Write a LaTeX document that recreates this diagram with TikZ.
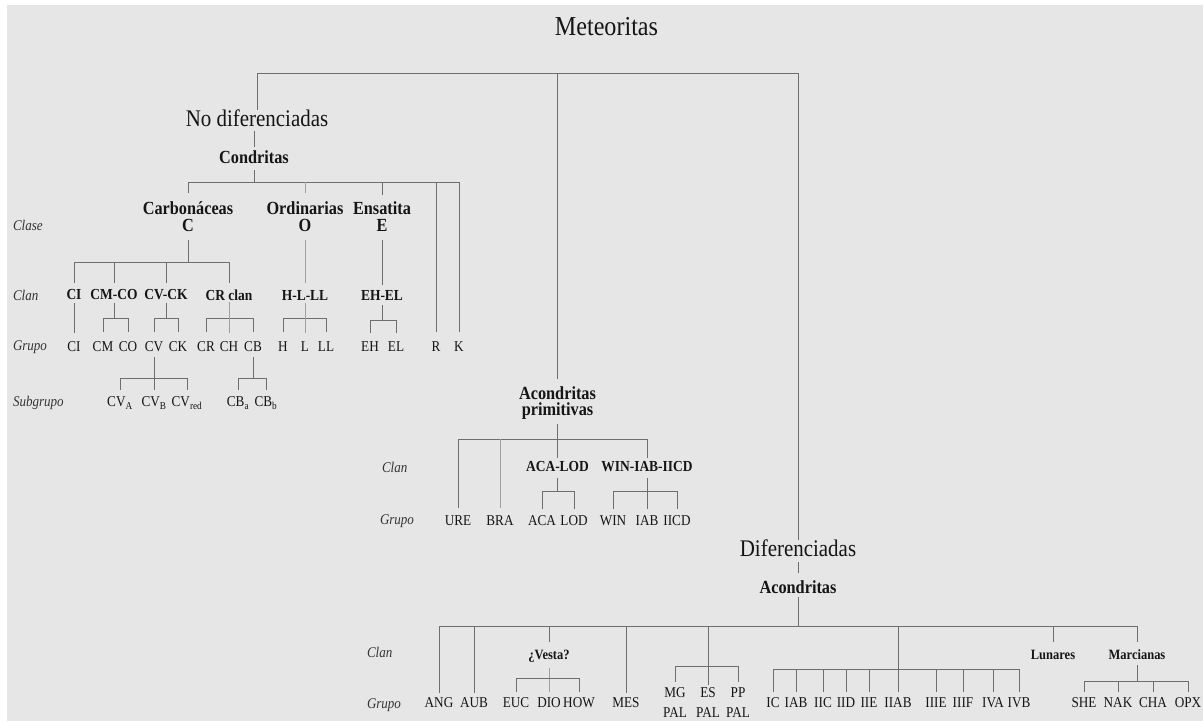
\documentclass[tikz,border=0pt]{standalone}
\usepackage{fontspec}
\setmainfont{Liberation Serif}[FakeStretch=0.88]
\definecolor{bgc}{HTML}{E6E6E6}
\definecolor{lnc}{HTML}{6E6E6E}
\definecolor{lnl}{HTML}{A0A0A0}
\definecolor{txc}{HTML}{151515}
\begin{document}
\begin{tikzpicture}[x=1pt,y=-1pt,
 every node/.style={inner sep=0pt,outer sep=0pt,text=txc},
 grp/.style={font=\fontsize{15}{20}\selectfont,align=center},
 cln/.style={font=\bfseries\fontsize{15.3}{16}\selectfont},
 sml/.style={font=\bfseries\fontsize{14.2}{15}\selectfont},
 big/.style={font=\bfseries\fontsize{18.5}{16.5}\selectfont,align=center},
 lvl/.style={font=\itshape\fontsize{14.8}{15}\selectfont,anchor=west,text=black!80},
 hd/.style={font=\fontsize{23.8}{24}\selectfont},
 ln/.style={draw=lnc,line width=1pt},
 lnlight/.style={draw=lnl,line width=1pt}]
\fill[bgc] (7,5) rectangle (1203,721);
\useasboundingbox (0,0) rectangle (1203,721);
% level labels
\node[lvl] (lclase) at (13,225) {Clase};
\node[lvl] (lclan) at (13,295) {Clan};
\node[lvl] (lgrupo) at (13,347) {Grupo};
\node[lvl] (lsub) at (13,403) {Subgrupo};
\node[lvl] (lclanb) at (382,467) {Clan};
\node[lvl] (lgrupob) at (380,521) {Grupo};
\node[lvl] (lclanc) at (367,652) {Clan};
\node[lvl] (lgrupoc) at (367,705) {Grupo};
% top
\node[font=\fontsize{27.4}{28}\selectfont] (met) at (606.5,27) {Meteoritas};
\node[hd] (nd) at (257,118) {No diferenciadas};
\node[big] (cond) at (254,157) {Condritas};
\node[big] (carb) at (188,216.5) {Carbonáceas\\C};
\node[big] (ord) at (305,216.5) {Ordinarias\\O};
\node[big] (ens) at (382,216.5) {Ensatita\\E};
% clans
\node[cln] (ci) at (74,295) {CI};
\node[cln] (cmco) at (114,295) {CM-CO};
\node[cln] (cvck) at (166,295) {CV-CK};
\node[cln] (crc) at (229,295) {CR clan};
\node[cln] (hll) at (305,295) {H-L-LL};
\node[cln] (ehel) at (382,295) {EH-EL};
% groups
\node[grp] (gci) at (74,347) {CI};
\node[grp] (gcm) at (103,347) {CM};
\node[grp] (gco) at (128,347) {CO};
\node[grp] (gcv) at (154,347) {CV};
\node[grp] (gck) at (178,347) {CK};
\node[grp] (gcr) at (206,347) {CR};
\node[grp] (gch) at (229,347) {CH};
\node[grp] (gcb) at (253,347) {CB};
\node[grp] (gh) at (283,347) {H};
\node[grp] (gl) at (305,347) {L};
\node[grp] (gll) at (326,347) {LL};
\node[grp] (geh) at (370,347) {EH};
\node[grp] (gel) at (396,347) {EL};
\node[grp] (gr) at (436,347) {R};
\node[grp] (gk) at (459,347) {K};
% subgroups
\node[grp] (cva) at (120,403) {CV\textsubscript{A}};
\node[grp] (cvb) at (154,403) {CV\textsubscript{B}};
\node[grp] (cvr) at (187,403) {CV\textsubscript{red}};
\node[grp] (cba) at (238,403) {CB\textsubscript{a}};
\node[grp] (cbb) at (266,403) {CB\textsubscript{b}};
% acondritas primitivas
\node[big] (ap) at (557.5,403) {Acondritas\\primitivas};
\node[cln] (acalod) at (557.5,467) {ACA-LOD};
\node[cln] (win) at (647,467) {WIN-IAB-IICD};
\node[grp] (ure) at (458,521) {URE};
\node[grp] (bra) at (500,521) {BRA};
\node[grp] (aca) at (542,521) {ACA};
\node[grp] (lod) at (574,521) {LOD};
\node[grp] (gwin) at (613,521) {WIN};
\node[grp] (giab) at (647,521) {IAB};
\node[grp] (giicd) at (677,521) {IICD};
% diferenciadas
\node[hd] (dif) at (798,548) {Diferenciadas};
\node[big] (acond) at (798,587) {Acondritas};
\node[sml] (vesta) at (549,656) {¿Vesta?};
\node[sml] (lun) at (1053,655) {Lunares};
\node[sml] (mar) at (1137,655) {Marcianas};
\node[grp] (ang) at (439,703) {ANG};
\node[grp] (aub) at (474,703) {AUB};
\node[grp] (euc) at (516,703) {EUC};
\node[grp] (dio) at (549,703) {DIO};
\node[grp] (how) at (579,703) {HOW};
\node[grp] (mes) at (626,703) {MES};
\node[grp] (mg) at (675,703) {MG\\PAL};
\node[grp] (es) at (708,703) {ES\\PAL};
\node[grp] (pp) at (738,703) {PP\\PAL};
\node[grp] (ic) at (773,703) {IC};
\node[grp] (iab) at (796,703) {IAB};
\node[grp] (iic) at (823,703) {IIC};
\node[grp] (iid) at (846,703) {IID};
\node[grp] (iie) at (869,703) {IIE};
\node[grp] (iiab) at (898,703) {IIAB};
\node[grp] (iiie) at (936,703) {IIIE};
\node[grp] (iiif) at (963,703) {IIIF};
\node[grp] (iva) at (993,703) {IVA};
\node[grp] (ivb) at (1019,703) {IVB};
\node[grp] (she) at (1084,703) {SHE};
\node[grp] (nak) at (1118,703) {NAK};
\node[grp] (cha) at (1153,703) {CHA};
\node[grp] (opx) at (1188,703) {OPX};
% ---- connectors ----
\draw[ln] (nd.north) -- (nd.north |- 0,73) -- (dif.north |- 0,73) -- (dif.north);
\draw[ln] (ap |- 0,73) -- (ap |- 0,379);
\draw[ln] (cond |- 0,131) -- (cond |- 0,147);
\draw[ln] (cond |- 0,170) -- (cond |- 0,182);
\draw[ln] (carb |- 0,193) -- (carb |- 0,182) -- (gk |- 0,182) -- (gk |- 0,332);
\draw[lnlight] (ord |- 0,182) -- (ord |- 0,193);
\draw[ln] (ens |- 0,182) -- (ens |- 0,195);
\draw[ln] (gr |- 0,182) -- (gr |- 0,332);
\draw[ln] (carb |- 0,240) -- (carb |- 0,262);
\draw[ln] (ci |- 0,283) -- (ci |- 0,262) -- (crc |- 0,262) -- (crc |- 0,283);
\draw[ln] (cmco |- 0,262) -- (cmco |- 0,283);
\draw[ln] (cvck |- 0,262) -- (cvck |- 0,283);
\draw[lnlight] (ord |- 0,240) -- (ord |- 0,283);
\draw[ln] (ens |- 0,240) -- (ens |- 0,285);
\draw[ln] (ci |- 0,303) -- (ci |- 0,333);
\draw[ln] (cmco |- 0,303) -- (cmco |- 0,318);
\draw[ln] (gcm |- 0,332) -- (gcm |- 0,318) -- (gco |- 0,318) -- (gco |- 0,332);
\draw[ln] (cvck |- 0,303) -- (cvck |- 0,318);
\draw[ln] (gcv |- 0,332) -- (gcv |- 0,318) -- (gck |- 0,318) -- (gck |- 0,332);
\draw[ln] (gcr |- 0,332) -- (gcr |- 0,318) -- (gcb |- 0,318) -- (gcb |- 0,332);
\draw[lnlight] (crc |- 0,302) -- (crc |- 0,333);
\draw[ln] (gh |- 0,332) -- (gh |- 0,318) -- (gll |- 0,318) -- (gll |- 0,332);
\draw[lnlight] (hll |- 0,303) -- (hll |- 0,333);
\draw[ln] (ehel |- 0,305) -- (ehel |- 0,320);
\draw[ln] (geh |- 0,333) -- (geh |- 0,320) -- (gel |- 0,320) -- (gel |- 0,333);
\draw[ln] (gcv |- 0,357) -- (gcv |- 0,390);
\draw[ln] (cva |- 0,390) -- (cva |- 0,378) -- (cvr |- 0,378) -- (cvr |- 0,390);
\draw[ln] (gcb |- 0,357) -- (gcb |- 0,378);
\draw[ln] (cba |- 0,390) -- (cba |- 0,378) -- (cbb |- 0,378) -- (cbb |- 0,390);
% acondritas primitivas
\draw[ln] (ap |- 0,424) -- (ap |- 0,458);
\draw[ln] (ure |- 0,508) -- (ure |- 0,439) -- (win |- 0,439) -- (win |- 0,458);
\draw[lnlight] (bra |- 0,439) -- (bra |- 0,508);
\draw[ln] (acalod |- 0,478) -- (acalod |- 0,491);
\draw[ln] (aca |- 0,509) -- (aca |- 0,491) -- (lod |- 0,491) -- (lod |- 0,509);
\draw[ln] (win |- 0,478) -- (win |- 0,509);
\draw[ln] (gwin |- 0,509) -- (gwin |- 0,491) -- (giicd |- 0,491) -- (giicd |- 0,509);
% diferenciadas
\draw[ln] (dif |- 0,562) -- (dif |- 0,573);
\draw[ln] (acond |- 0,597) -- (acond |- 0,626);
\draw[ln] (ang |- 0,693) -- (ang |- 0,626) -- (mar |- 0,626) -- (mar |- 0,642);
\draw[ln] (aub |- 0,626) -- (aub |- 0,693);
\draw[ln] (vesta |- 0,626) -- (vesta |- 0,642);
\draw[ln] (mes |- 0,626) -- (mes |- 0,693);
\draw[ln] (es |- 0,626) -- (es |- 0,685);
\draw[ln] (mg |- 0,682) -- (mg |- 0,666) -- (pp |- 0,666) -- (pp |- 0,682);
\draw[ln] (iiab |- 0,626) -- (iiab |- 0,692);
\draw[ln] (ic |- 0,692) -- (ic |- 0,669) -- (ivb |- 0,669) -- (ivb |- 0,692);
\foreach \n in {iab,iic,iid,iie,iiie,iiif,iva}
  \draw[ln] (\n |- 0,669) -- (\n |- 0,692);
\draw[ln] (lun |- 0,626) -- (lun |- 0,642);
\draw[ln] (mar |- 0,665) -- (mar |- 0,681);
\draw[ln] (she |- 0,692) -- (she |- 0,681) -- (opx |- 0,681) -- (opx |- 0,692);
\draw[ln] (nak |- 0,681) -- (nak |- 0,692);
\draw[ln] (cha |- 0,681) -- (cha |- 0,692);
\draw[lnlight] (vesta |- 0,668) -- (vesta |- 0,692);
\draw[ln] (euc |- 0,692) -- (euc |- 0,678) -- (how |- 0,678) -- (how |- 0,692);
\end{tikzpicture}
\end{document}
